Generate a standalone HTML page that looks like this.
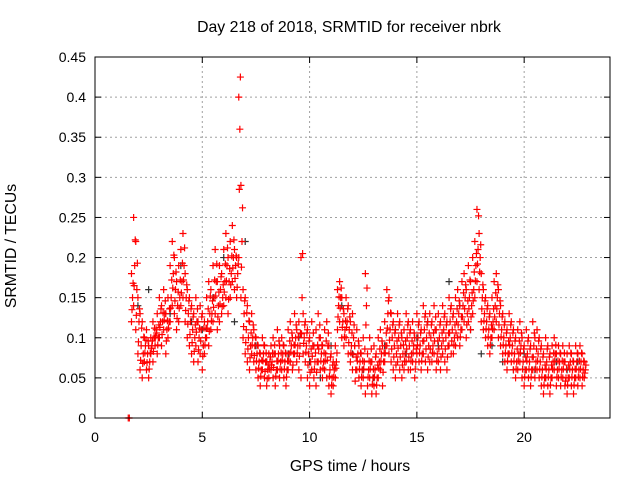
<!DOCTYPE html>
<html><head><meta charset="utf-8"><style>
body{margin:0;background:#fff}
svg{display:block;font-family:"Liberation Sans",sans-serif}
</style></head><body>
<svg id="chart" width="640" height="480" xmlns="http://www.w3.org/2000/svg">
<rect width="640" height="480" fill="#fff"/>
<text x="349" y="32" font-size="15.8" text-anchor="middle">Day 218 of 2018, SRMTID for receiver nbrk</text>
<text x="350" y="471" font-size="15.8" text-anchor="middle">GPS time / hours</text>
<text x="16" y="246" font-size="15.8" text-anchor="middle" transform="rotate(-90 16 246)">SRMTID / TECUs</text>
<g id="grid"></g>
<g id="ticks"></g>
<g id="pts"></g>
<rect x="95" y="57" width="515" height="361" fill="none" stroke="#000"/>
</svg>
<script>
const xTicks=[0,5,10,15,20];
const yTicks=[0,0.05,0.1,0.15,0.2,0.25,0.3,0.35,0.4,0.45];
const yTickLabels=["0","0.05","0.1","0.15","0.2","0.25","0.3","0.35","0.4","0.45"];
const startHour=1.7, stepHour=0.1;
const seriesUpper=[.18,.25,.22,.15,.13,.12,.10,.11,.09,.10,
.12,.10,.13,.15,.14,.16,.13,.15,.19,.22,
.20,.17,.19,.21,.23,.18,.16,.15,.14,.13,
.15,.12,.14,.13,.12,.15,.17,.16,.19,.21,
.17,.19,.18,.21,.23,.20,.22,.24,.21,.20,
.40,.29,.16,.15,.14,.12,.13,.11,.10,.09,
.08,.10,.09,.07,.08,.09,.10,.08,.11,.09,
.10,.09,.08,.11,.12,.10,.13,.11,.12,.20,
.13,.12,.11,.10,.12,.09,.11,.13,.10,.09,
.11,.12,.09,.08,.07,.09,.16,.17,.15,.13,
.15,.14,.12,.13,.09,.11,.09,.08,.10,.18,
.08,.10,.07,.09,.08,.10,.11,.09,.12,.16,
.15,.13,.12,.11,.13,.12,.10,.11,.13,.12,
.11,.12,.10,.13,.12,.11,.14,.13,.12,.13,
.12,.14,.11,.13,.12,.14,.13,.12,.15,.14,
.13,.15,.16,.14,.17,.18,.16,.19,.17,.20,
.22,.26,.23,.18,.16,.15,.14,.13,.15,.17,
.18,.16,.14,.13,.12,.11,.13,.12,.11,.10,
.11,.12,.10,.09,.11,.10,.09,.12,.10,.11,
.10,.09,.08,.10,.09,.08,.09,.10,.08,.09,
.08,.09,.07,.08,.09,.08,.07,.09,.08,.09,.08,.07];
const seriesUpperMid=[.168,.222,.193,.136,.112,.101,.097,.096,.081,.096,
.112,.106,.116,.136,.131,.146,.121,.136,.172,.203,
.182,.157,.172,.193,.212,.166,.146,.136,.126,.116,
.136,.112,.126,.112,.112,.136,.152,.146,.172,.192,
.157,.176,.166,.192,.212,.186,.202,.222,.202,.192,
.425,.262,.146,.131,.121,.106,.116,.101,.091,.081,
.072,.091,.081,.066,.076,.081,.091,.071,.096,.081,
.091,.081,.071,.096,.106,.091,.116,.101,.106,.205,
.116,.106,.096,.086,.106,.081,.091,.116,.091,.081,
.096,.106,.076,.066,.066,.081,.151,.162,.136,.121,
.136,.126,.106,.116,.076,.096,.081,.071,.086,.162,
.071,.086,.061,.076,.066,.086,.096,.081,.106,.146,
.131,.116,.106,.096,.116,.106,.091,.096,.116,.106,
.096,.106,.086,.116,.106,.096,.126,.116,.106,.116,
.106,.126,.096,.116,.106,.126,.116,.106,.136,.126,
.116,.136,.146,.126,.156,.166,.146,.172,.156,.182,
.205,.252,.216,.166,.146,.136,.126,.116,.136,.156,
.166,.146,.126,.116,.106,.096,.116,.106,.096,.086,
.096,.106,.086,.076,.096,.086,.076,.106,.086,.096,
.086,.076,.066,.086,.076,.066,.081,.091,.071,.081,
.071,.081,.061,.066,.081,.071,.061,.081,.071,.081,.071,.066];
const seriesMid=[.15,.19,.16,.12,.09,.08,.09,.08,.07,.09,
.10,.11,.10,.12,.12,.13,.11,.12,.15,.18,
.16,.14,.15,.17,.19,.15,.13,.12,.11,.10,
.12,.10,.11,.09,.10,.12,.13,.13,.15,.17,
.14,.16,.15,.17,.19,.17,.18,.20,.19,.18,
.36,.22,.13,.11,.10,.09,.10,.09,.08,.07,
.06,.08,.07,.06,.07,.07,.08,.06,.08,.07,
.08,.07,.06,.08,.09,.08,.10,.09,.09,.15,
.10,.09,.08,.07,.09,.07,.07,.10,.08,.07,
.08,.09,.06,.05,.06,.07,.14,.15,.12,.11,
.12,.11,.09,.10,.06,.08,.07,.06,.07,.14,
.06,.07,.05,.06,.05,.07,.08,.07,.09,.13,
.11,.10,.09,.08,.10,.09,.08,.08,.10,.09,
.08,.09,.07,.10,.09,.08,.11,.10,.09,.10,
.09,.11,.08,.10,.09,.11,.10,.09,.12,.11,
.10,.12,.13,.11,.14,.15,.13,.15,.14,.16,
.19,.21,.20,.15,.13,.12,.11,.10,.12,.14,
.15,.13,.11,.10,.09,.08,.10,.09,.08,.07,
.08,.09,.07,.06,.08,.07,.06,.09,.07,.08,
.07,.06,.05,.07,.06,.05,.07,.08,.06,.07,
.06,.07,.05,.05,.07,.06,.05,.07,.06,.07,.06,.06];
const seriesLowerMid=[.135,.165,.128,.095,.072,.068,.081,.069,.061,.087,
.083,.102,.091,.113,.104,.122,.096,.112,.137,.162,
.146,.124,.137,.156,.172,.134,.117,.104,.094,.083,
.107,.085,.096,.077,.091,.112,.108,.121,.138,.152,
.126,.142,.139,.157,.171,.148,.166,.187,.174,.163,
.285,.188,.114,.094,.086,.075,.091,.078,.071,.062,
.052,.071,.058,.049,.061,.066,.063,.052,.071,.061,
.072,.061,.051,.071,.082,.066,.091,.081,.077,.105,
.093,.082,.066,.057,.077,.061,.057,.086,.071,.062,
.071,.072,.052,.041,.051,.062,.126,.137,.113,.101,
.113,.094,.081,.079,.046,.071,.061,.051,.061,.116,
.051,.061,.042,.051,.041,.062,.071,.057,.081,.112,
.097,.086,.076,.066,.087,.076,.066,.071,.086,.076,
.071,.081,.061,.091,.081,.071,.096,.086,.076,.086,
.081,.096,.071,.086,.076,.096,.086,.076,.106,.096,
.091,.106,.116,.101,.126,.136,.116,.136,.126,.146,
.171,.192,.182,.136,.121,.111,.101,.091,.111,.126,
.136,.116,.101,.091,.081,.071,.091,.081,.071,.061,
.071,.081,.061,.051,.071,.061,.051,.076,.061,.071,
.061,.051,.041,.061,.051,.041,.061,.071,.051,.061,
.051,.061,.046,.041,.061,.051,.041,.061,.051,.061,.051,.056];
const seriesLower=[.12,.14,.11,.08,.06,.05,.07,.06,.05,.08,
.07,.09,.08,.10,.09,.11,.08,.10,.12,.14,
.13,.11,.12,.14,.15,.12,.10,.09,.08,.07,
.09,.07,.08,.06,.08,.10,.09,.11,.12,.13,
.11,.12,.13,.14,.15,.13,.15,.17,.16,.15,
.20,.15,.10,.08,.07,.06,.08,.07,.06,.05,
.04,.06,.05,.04,.05,.06,.05,.04,.06,.05,
.06,.05,.04,.06,.07,.06,.08,.07,.06,.05,
.08,.07,.05,.04,.06,.05,.04,.07,.06,.05,
.06,.05,.04,.03,.04,.05,.11,.12,.10,.09,
.10,.08,.07,.06,.09,.06,.05,.04,.05,.03,
.04,.05,.03,.04,.03,.05,.06,.04,.07,.09,
.08,.07,.06,.05,.07,.06,.05,.06,.07,.06,
.06,.07,.05,.08,.07,.06,.08,.07,.06,.07,
.07,.08,.06,.07,.06,.08,.07,.06,.09,.08,
.08,.09,.10,.09,.11,.12,.10,.12,.11,.13,
.15,.17,.16,.12,.11,.10,.09,.08,.10,.11,
.12,.10,.09,.08,.07,.06,.08,.07,.06,.05,
.06,.07,.05,.04,.06,.05,.04,.06,.05,.06,
.05,.04,.03,.05,.04,.03,.05,.06,.04,.05,
.04,.05,.04,.03,.05,.04,.03,.05,.04,.05,.04,.05];
const darkStart=2.0, darkStep=0.5;
const seriesDark=[.14,.16,.10,.13,.19,.12,.11,.15,.20,.12,.22,.09,.07,.06,.08,.10,.07,.05,.09,.14,.08,.06,.05,.09,.11,.08,.10,.12,.09,.17,.14,.11,.08,.09,.07,.06,.08,.06,.05,.07,.06,.07];
const zeroHours=[1.55,1.6];
const zeroValues=[0,0];

const X0=95,X1=610,Y0=418,Y1=57,XMAX=24,YMAX=0.45;
const sx=h=>X0+(h/XMAX)*(X1-X0);
const sy=v=>Y0-(v/YMAX)*(Y0-Y1);
const NS="http://www.w3.org/2000/svg";
function mk(tag,attrs,parent){const e=document.createElementNS(NS,tag);for(const k in attrs)e.setAttribute(k,attrs[k]);parent.appendChild(e);return e;}
const grid=document.getElementById('grid'),ticks=document.getElementById('ticks'),pts=document.getElementById('pts');
yTicks.forEach((v,i)=>{
  const y=sy(v);
  if(i>0&&i<yTicks.length-1){const g=mk('line',{x1:X0,x2:X1,y1:y,y2:y,stroke:'#a0a0a0','stroke-dasharray':'2,3'},grid);
  
  }
  const t1=mk('line',{x1:X0,x2:X0+6,y1:y,y2:y,stroke:'#000'},ticks);
  
  
  mk('line',{x1:X1,x2:X1-6,y1:y,y2:y,stroke:'#000'},ticks);
  const tl=mk('text',{x:X0-9,y:y+5,'font-size':14,'text-anchor':'end'},ticks);
  tl.textContent=yTickLabels[i];
  
  
});
xTicks.forEach(h=>{
  const x=sx(h);
  if(h>0){const g=mk('line',{x1:x,x2:x,y1:Y0,y2:Y1,stroke:'#a0a0a0','stroke-dasharray':'2,3'},grid);
  
  }
  mk('line',{x1:x,x2:x,y1:Y0,y2:Y0-6,stroke:'#000'},ticks);
  mk('line',{x1:x,x2:x,y1:Y1,y2:Y1+6,stroke:'#000'},ticks);
  const tl=mk('text',{x:x,y:Y0+24,'font-size':14,'text-anchor':'middle'},ticks);
  tl.textContent=String(h);
  
  
});
function plus(h,v,color){
  const x=sx(h),y=sy(v);
  const p=mk('path',{d:`M${x-3.5},${y}h7M${x},${y-3.5}v7`,stroke:color,'stroke-width':1.2,fill:'none'},pts);
  
  
}
seriesDark.forEach((v,i)=>plus(darkStart+i*darkStep,v,'#303030'));
seriesUpper.forEach((v,i)=>plus(startHour+i*stepHour,v,'#ff0000'));
seriesUpperMid.forEach((v,i)=>plus(startHour+i*stepHour+0.075,v,'#ff0000'));
seriesMid.forEach((v,i)=>plus(startHour+i*stepHour+0.05,v,'#ff0000'));
seriesLowerMid.forEach((v,i)=>plus(startHour+i*stepHour+0.025,v,'#ff0000'));
seriesLower.forEach((v,i)=>plus(startHour+i*stepHour,v,'#ff0000'));
zeroHours.forEach((h,i)=>plus(h,zeroValues[i],'#ff0000'));
</script>
</body></html>
